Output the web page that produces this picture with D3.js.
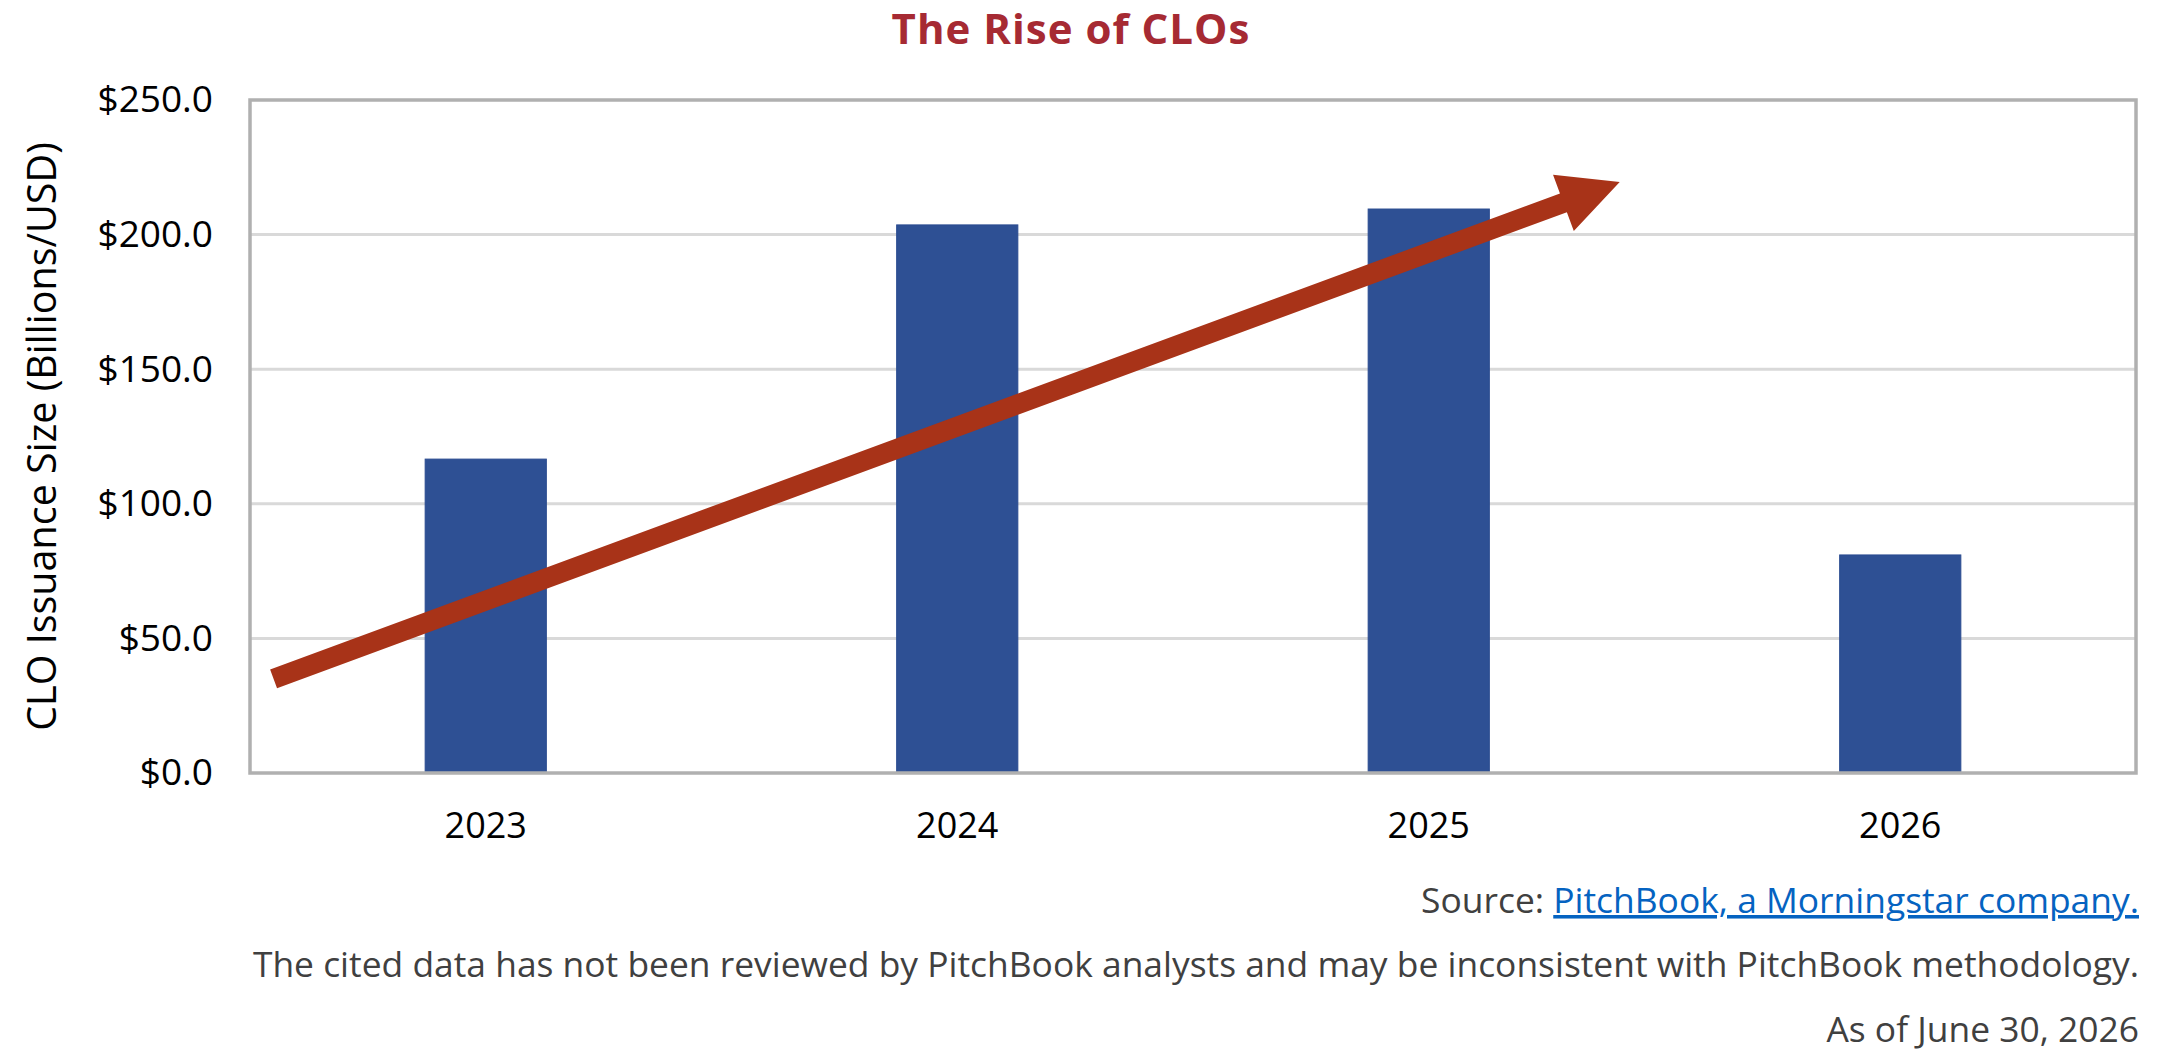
<!DOCTYPE html>
<html>
<head>
<meta charset="utf-8">
<script src="https://cdn.jsdelivr.net/npm/d3@7"></script>
<style>
  body { margin: 0; background: #fff; }
  svg { display: block; font-family: "Open Sans", sans-serif; }
</style>
</head>
<body>
<svg id="chart" width="2160" height="1053"></svg>
<script>
// data
var years = ["2023", "2024", "2025", "2026"];
var issuance = [116.6, 203.6, 209.5, 81.0];
var yTicks = [0, 50, 100, 150, 200, 250];
// trend arrow, in (category index, value) space
var arrowFrom = [-0.45, 35];
var arrowTo = [2.405, 219.5];

var svg = d3.select("svg#chart"),
    margin = {top: 100, right: 24, bottom: 280, left: 250},
    width = +svg.attr("width") - margin.left - margin.right,
    height = +svg.attr("height") - margin.top - margin.bottom;

var g = svg.append("g")
    .attr("transform", "translate(" + margin.left + "," + margin.top + ")");

var x = d3.scaleBand()
    .domain(years)
    .range([0, width])
    .paddingInner(0.743)
    .paddingOuter(0.3715);

var y = d3.scaleLinear()
    .domain([0, 250])
    .range([height, 0]);

// index scale for the arrow
var xi = d3.scaleLinear()
    .domain([-0.5, years.length - 0.5])
    .range([0, width]);

// gridlines
g.selectAll(".grid")
    .data(yTicks.slice(1, -1))
    .enter().append("line")
    .attr("class", "grid")
    .attr("x1", 0).attr("x2", width)
    .attr("y1", function (d) { return y(d); })
    .attr("y2", function (d) { return y(d); })
    .attr("stroke", "#d9d9d9")
    .attr("stroke-width", 3);

// bars
var data = years.map(function (yr, i) { return {year: yr, value: issuance[i]}; });
g.selectAll(".bar")
    .data(data)
    .enter().append("rect")
    .attr("class", "bar")
    .attr("x", function (d) { return x(d.year); })
    .attr("y", function (d) { return y(d.value); })
    .attr("width", x.bandwidth())
    .attr("height", function (d) { return height - y(d.value); })
    .attr("fill", "#2e5094")
    .attr("stroke", "#2a4b90")
    .attr("stroke-width", 1);

// plot frame
g.append("rect")
    .attr("x", 0).attr("y", 0)
    .attr("width", width).attr("height", height)
    .attr("fill", "none")
    .attr("stroke", "#b0b0b0")
    .attr("stroke-width", 3.5);

// y axis labels
var yAxis = g.append("g")
    .call(d3.axisLeft(y).tickValues(yTicks).tickSize(0).tickPadding(37)
        .tickFormat(function (d) { return "$" + d.toFixed(1); }));
yAxis.select(".domain").remove();
yAxis.selectAll("text")
    .attr("font-size", 37)
    .attr("font-family", "Open Sans")
    .attr("fill", "#000");

// x axis labels
var xAxis = g.append("g")
    .attr("transform", "translate(0," + height + ")")
    .call(d3.axisBottom(x).tickSize(0).tickPadding(39));
xAxis.select(".domain").remove();
xAxis.selectAll("text")
    .attr("font-size", 36)
    .attr("font-family", "Open Sans")
    .attr("fill", "#000");

// trend arrow
var p0 = [xi(arrowFrom[0]), y(arrowFrom[1])],
    p1 = [xi(arrowTo[0]), y(arrowTo[1])];
var dx = p1[0] - p0[0], dy = p1[1] - p0[1], len = Math.sqrt(dx * dx + dy * dy);
var ux = dx / len, uy = dy / len, nx = -uy, ny = ux;
var shaft = 10, headW = 30, headL = 60;
var bx = p1[0] - ux * headL, by = p1[1] - uy * headL;
var arrowPts = [
    [p0[0] + nx * shaft, p0[1] + ny * shaft],
    [bx + nx * shaft, by + ny * shaft],
    [bx + nx * headW, by + ny * headW],
    p1,
    [bx - nx * headW, by - ny * headW],
    [bx - nx * shaft, by - ny * shaft],
    [p0[0] - nx * shaft, p0[1] - ny * shaft]
];
g.append("polygon")
    .attr("points", arrowPts.map(function (p) { return p.join(","); }).join(" "))
    .attr("fill", "#a83318");

// title
svg.append("text")
    .attr("x", 1071).attr("y", 44)
    .attr("text-anchor", "middle")
    .attr("font-size", 42)
    .attr("font-weight", "bold")
    .attr("letter-spacing", 1)
    .attr("fill", "#a62a33")
    .text("The Rise of CLOs");

// y axis title
svg.append("text")
    .attr("transform", "translate(42," + (margin.top + height / 2) + ") rotate(-90)")
    .attr("text-anchor", "middle")
    .attr("dy", "0.35em")
    .attr("font-size", 39.5)
    .attr("fill", "#000")
    .text("CLO Issuance Size (Billions/USD)");

// footnotes
var src = svg.append("text")
    .attr("x", 2139).attr("y", 913)
    .attr("text-anchor", "end")
    .attr("font-size", 35.4)
    .attr("fill", "#404040");
src.append("tspan").text("Source: ");
src.append("tspan")
    .attr("fill", "#0563c1")
    .attr("text-decoration", "underline")
    .text("PitchBook, a Morningstar company.");

svg.append("text")
    .attr("x", 2139).attr("y", 977)
    .attr("text-anchor", "end")
    .attr("font-size", 35.4)
    .attr("fill", "#404040")
    .text("The cited data has not been reviewed by PitchBook analysts and may be inconsistent with PitchBook methodology.");

svg.append("text")
    .attr("x", 2139).attr("y", 1042)
    .attr("text-anchor", "end")
    .attr("font-size", 35.4)
    .attr("fill", "#404040")
    .text("As of June 30, 2026");
</script>
</body>
</html>
